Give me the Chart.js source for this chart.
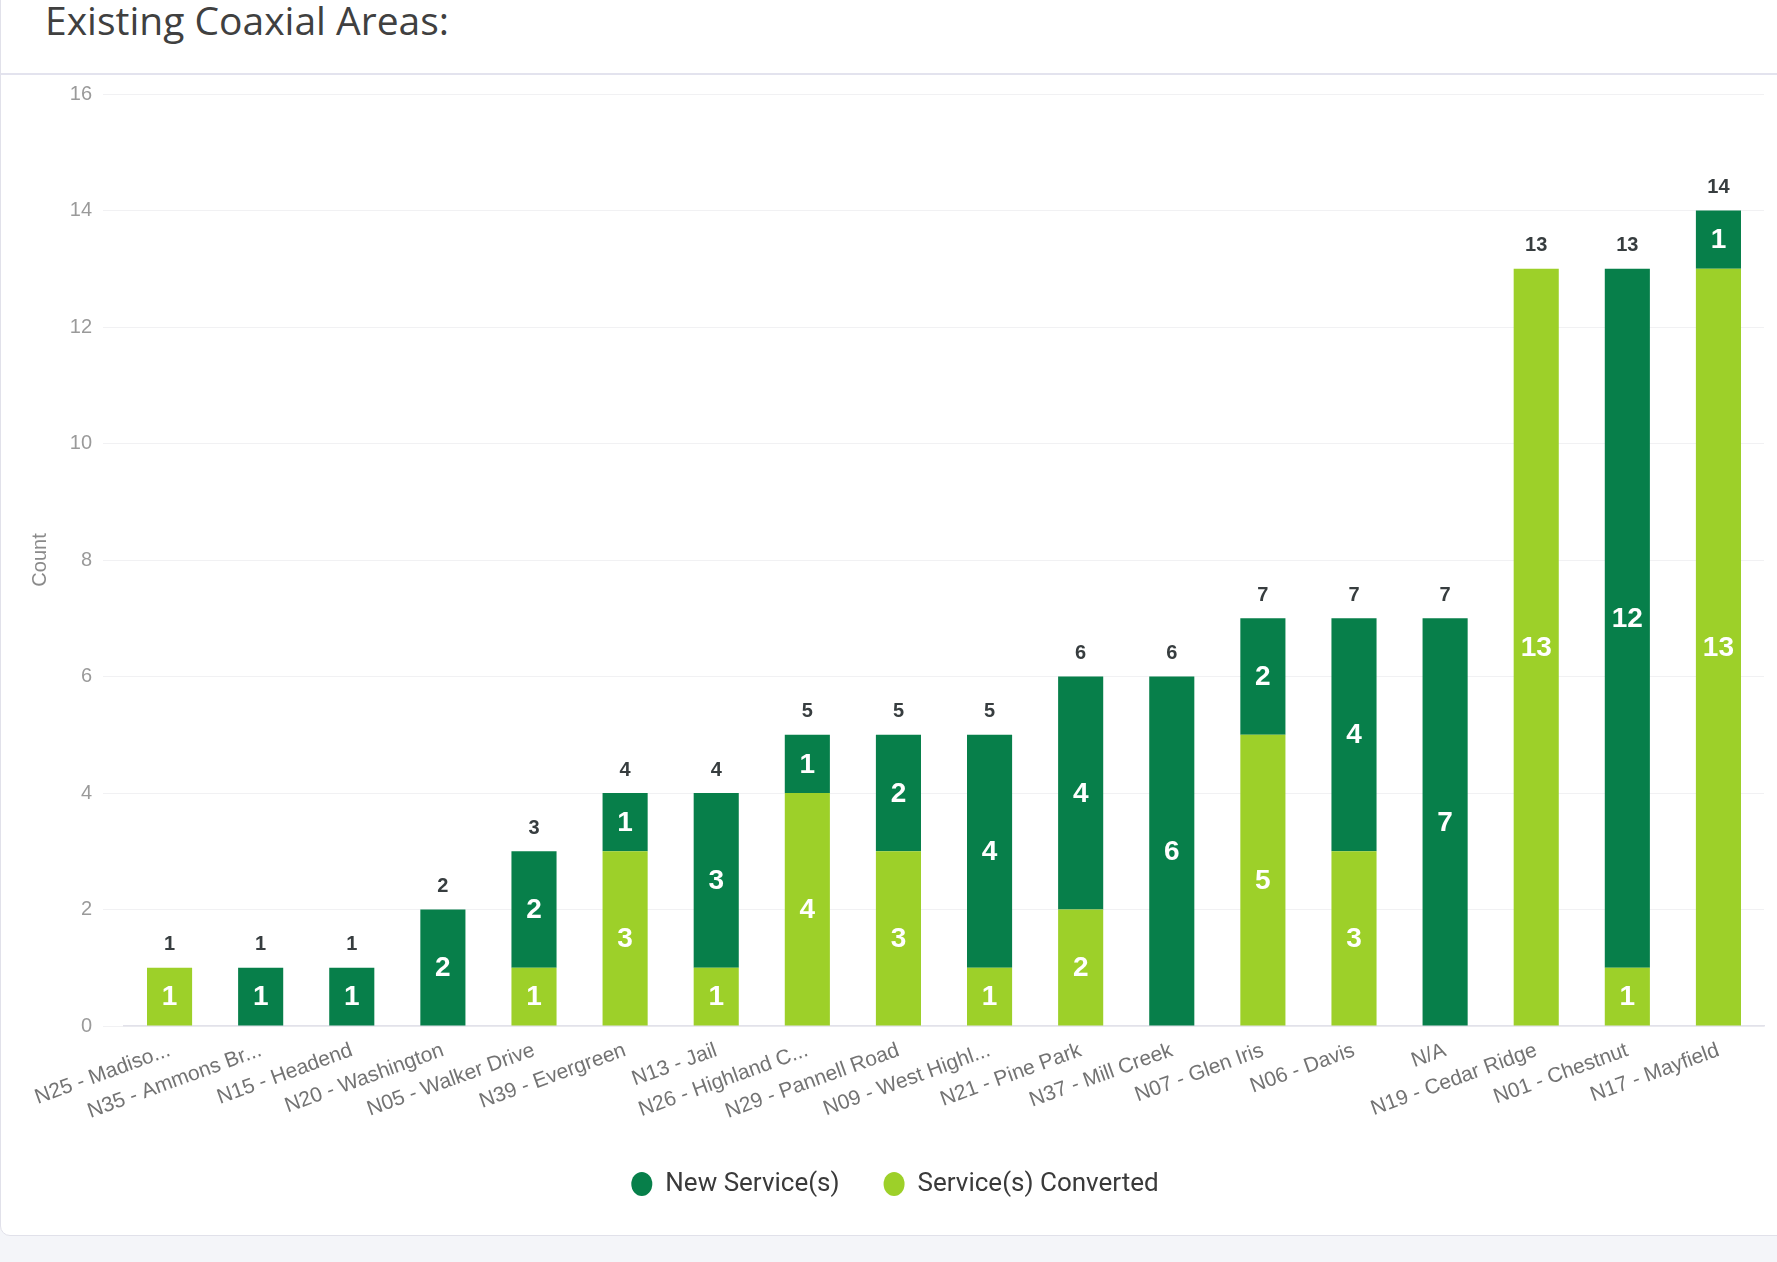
<!DOCTYPE html>
<html>
<head>
<meta charset="utf-8">
<title>Existing Coaxial Areas</title>
<script src="https://cdn.jsdelivr.net/npm/chart.js@4.4.1/dist/chart.umd.min.js"></script>
<style>
  html, body { margin: 0; padding: 0; }
  body { width: 1777px; height: 1262px; background: #f4f5f9; position: relative; overflow: hidden; }
  .card { position: absolute; left: 0; top: -12px; width: 1810px; height: 1248px; background: #fff;
          border: 1.5px solid #e1e1ea; border-radius: 10px; box-sizing: border-box; }
  .title { position: absolute; left: 45px; top: 0px; font: 39px/1 'Open Sans', sans-serif; color: #404040; white-space: nowrap; }
  .sep { position: absolute; left: 1px; top: 73px; width: 1776px; height: 2px; background: #e3e3ee; }
  #wrap { position: absolute; left: 0; top: 71px; width: 1777px; height: 1191px; }
</style>
</head>
<body>
<div class="card"></div>
<div class="title">Existing Coaxial Areas:</div>
<div class="sep"></div>
<div id="wrap"><canvas id="chart"></canvas></div>

<script>
// chart data
const areas = ['N25 - Madiso...', 'N35 - Ammons Br...', 'N15 - Headend', 'N20 - Washington',
  'N05 - Walker Drive', 'N39 - Evergreen', 'N13 - Jail', 'N26 - Highland C...', 'N29 - Pannell Road',
  'N09 - West Highl...', 'N21 - Pine Park', 'N37 - Mill Creek', 'N07 - Glen Iris', 'N06 - Davis',
  'N/A', 'N19 - Cedar Ridge', 'N01 - Chestnut', 'N17 - Mayfield'];
const converted = [1, 0, 0, 0, 1, 3, 1, 4, 3, 1, 2, 0, 5, 3, 0, 13, 1, 13];
const newService = [0, 1, 1, 2, 2, 1, 3, 1, 2, 4, 4, 6, 2, 4, 7, 0, 12, 1];
const yTicks = [0, 2, 4, 6, 8, 10, 12, 14, 16];

const darkGreen = '#077f4a';
const lightGreen = '#9dd029';

Chart.defaults.font.family = "'Liberation Sans', Arial, sans-serif";

// white numbers in each segment + grey totals above each stack
const barLabels = {
    id: 'barLabels',
    afterDatasetsDraw(chart) {
        const ctx = chart.ctx;
        const yScale = chart.scales.y;
        ctx.save();
        ctx.textAlign = 'center';
        ctx.textBaseline = 'middle';
        ctx.fillStyle = '#fff';
        ctx.font = "bold 28px 'Liberation Sans', Arial, sans-serif";
        chart.data.datasets.forEach((ds, di) => {
            const meta = chart.getDatasetMeta(di);
            meta.data.forEach((bar, i) => {
                const v = ds.data[i];
                if (!v) return;
                const mid = (bar.y + bar.base) / 2;
                ctx.fillText(String(v), bar.x, mid + 1);
            });
        });
        ctx.fillStyle = '#373d3f';
        ctx.font = "bold 20px 'Liberation Sans', Arial, sans-serif";
        const meta0 = chart.getDatasetMeta(0);
        meta0.data.forEach((bar, i) => {
            const total = converted[i] + newService[i];
            ctx.fillText(String(total), bar.x, yScale.getPixelForValue(total) - 23);
        });
        ctx.restore();
    }
};

// nudge the legend a bit right, like the original
const legendShift = {
    id: 'legendShift',
    afterLayout(chart) {
        chart.legend.left += 13;
        chart.legend.right += 13;
    }
};

const ctx = document.getElementById('chart').getContext('2d');
new Chart(ctx, {
    type: 'bar',
    data: {
        labels: areas,
        datasets: [
            { label: 'Service(s) Converted', data: converted, backgroundColor: lightGreen },
            { label: 'New Service(s)', data: newService, backgroundColor: darkGreen }
        ]
    },
    options: {
        responsive: true,
        maintainAspectRatio: false,
        animation: false,
        datasets: { bar: { categoryPercentage: 1, barPercentage: 0.495 } },
        layout: { padding: { top: 12, right: 13, bottom: 55, left: 0 } },
        scales: {
            x: {
                stacked: true,
                grid: { display: false, drawTicks: false },
                border: { display: true, color: '#e2e2ea', width: 1.5 },
                ticks: {
                    autoSkip: false,
                    minRotation: 20,
                    maxRotation: 20,
                    padding: 12,
                    color: '#737373',
                    font: { size: 21 }
                },
                afterFit: (s) => { s.height = 101; }
            },
            y: {
                stacked: true,
                min: 0,
                max: 16,
                afterBuildTicks: (s) => { s.ticks = yTicks.map(v => ({ value: v })); },
                grid: { color: '#f1f1f3', tickLength: 21, tickColor: '#f1f1f3' },
                border: { display: false },
                ticks: { padding: 11, color: '#9a9a9a', font: { size: 20 } },
                title: { display: true, text: 'Count', color: '#8a8a8a', font: { size: 20 }, padding: { top: 28, bottom: 0 } },
                afterFit: (s) => { s.width = 124; }
            }
        },
        plugins: {
            legend: {
                position: 'bottom',
                reverse: true,
                labels: {
                    usePointStyle: true,
                    pointStyle: 'circle',
                    boxHeight: 17,
                    pointStyleWidth: 21,
                    padding: 44,
                    color: '#3a3a3a',
                    font: { size: 26, family: "'Roboto', sans-serif" }
                }
            },
            tooltip: { enabled: false }
        }
    },
    plugins: [barLabels, legendShift]
});
</script>
</body>
</html>
